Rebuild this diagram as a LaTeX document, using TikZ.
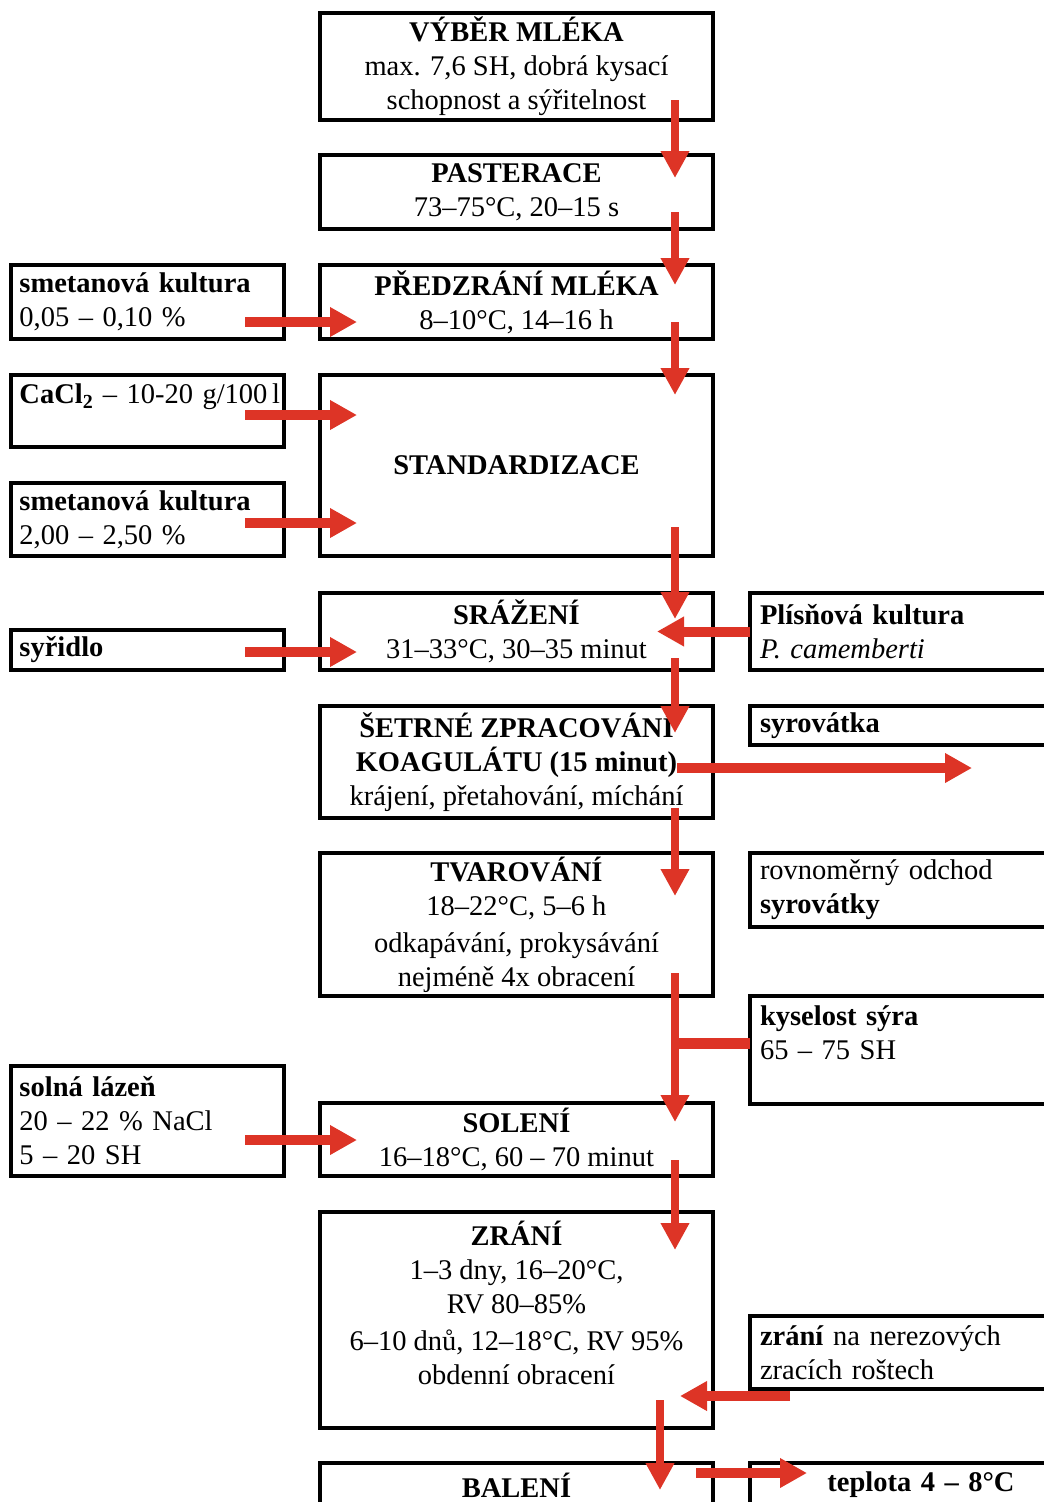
\documentclass[tikz,border=0pt]{standalone}
\usepackage{fontspec}
\setmainfont{Liberation Serif}
\usetikzlibrary{arrows.meta}
\definecolor{flowred}{RGB}{221,52,38}

\tikzset{
  box/.style={draw, line width=3.5pt, inner sep=0pt, outer sep=0pt, font=\fontsize{28.5}{34}\selectfont},
  stepbox/.style={box, minimum width=393pt, align=center},
  inbox/.style={box, minimum width=273pt, text width=256pt, align=left},
  outbox/.style={box, minimum width=342pt, text width=322pt, align=left},
  flow/.style={flowred, line width=8.5pt, -{Triangle[width=27pt,length=27pt]}},
  feed/.style={flowred, line width=10pt, -{Triangle[width=28pt,length=27pt]}},
}

\begin{document}
\begin{tikzpicture}[x=1pt, y=-1pt]
  \useasboundingbox (0,0) rectangle (1044,1502);
  \clip (0,0) rectangle (1044,1502);

  % main process steps
  \node[stepbox, minimum height=107pt] (vyber) at (516.5,66.5)
    {\textbf{VÝBĚR MLÉKA}\\max. 7,6 SH, dobrá kysací\\schopnost a sýřitelnost};
  \node[stepbox, minimum height=74pt] (paster) at (516.5,192)
    {\textbf{PASTERACE}\\73–75°C, 20–15 s};
  \node[stepbox, minimum height=74pt] (predzr) at (516.5,302)
    {\textbf{PŘEDZRÁNÍ MLÉKA}\\8–10°C, 14–16 h};
  \node[stepbox, minimum height=181pt] (stand) at (516.5,465.5)
    {\textbf{STANDARDIZACE}};
  \node[stepbox, minimum height=77pt] (srazeni) at (516.5,631.5)
    {\textbf{SRÁŽENÍ}\\31–33°C, 30–35 minut};
  \node[stepbox, minimum height=112pt] (setrne) at (516.5,762)
    {\textbf{ŠETRNÉ ZPRACOVÁNÍ}\\\textbf{KOAGULÁTU (15 minut)}\\krájení, přetahování, míchání};
  \node[stepbox, minimum height=143pt] (tvar) at (516.5,924.5)
    {\textbf{TVAROVÁNÍ}\\18–22°C, 5–6 h\\[3pt]odkapávání, prokysávání\\nejméně 4x obracení};
  \node[stepbox, minimum height=73pt] (soleni) at (516.5,1139.5)
    {\textbf{SOLENÍ}\\16–18°C, 60 – 70 minut};
  \node[stepbox, minimum height=216pt] (zrani) at (516.5,1320)
    {\textbf{ZRÁNÍ}\\1–3 dny, 16–20°C,\\RV 80–85\%\\[3pt]6–10 dnů, 12–18°C, RV 95\%\\obdenní obracení\\~};
  \node[stepbox, minimum height=44pt] (baleni) at (516.5,1485)
    {\textbf{BALENÍ}};

  % inputs on the left
  \node[inbox, minimum height=74pt] (kult1) at (147.5,302)
    {\textbf{smetanová kultura}\\0,05 – 0,10 \%};
  \node[inbox, minimum height=72pt] (cacl) at (147.5,411)
    {\mbox{\textbf{CaCl\textsubscript{2}} – 10-20 g/100\,l}\\~};
  \node[inbox, minimum height=73pt] (kult2) at (147.5,519.5)
    {\textbf{smetanová kultura}\\2,00 – 2,50 \%};
  \node[inbox, minimum height=40pt] (syridlo) at (147.5,650)
    {\textbf{syřidlo}};
  \node[inbox, minimum height=110pt] (solna) at (147.5,1121)
    {\textbf{solná lázeň}\\20 – 22 \% NaCl\\5 – 20 SH};

  % notes on the right
  \node[outbox, minimum height=77pt] (plis) at (921,631.5)
    {\textbf{Plísňová kultura}\\\textit{P. camemberti}};
  \node[outbox, minimum height=39pt] (syrov) at (921,725.5)
    {\textbf{syrovátka}};
  \node[outbox, minimum height=74pt] (odchod) at (921,890)
    {rovnoměrný odchod\\\textbf{syrovátky}};
  \node[outbox, minimum height=108pt] (kysel) at (921,1050)
    {\textbf{kyselost sýra}\\65 – 75 SH\\~};
  \node[outbox, minimum height=73pt] (zrrost) at (921,1352.5)
    {\textbf{zrání} na nerezových\\zracích roštech};
  \node[outbox, minimum height=44pt, align=center] (teplota) at (921,1485)
    {\textbf{teplota 4 – 8°C}};
  \coordinate (whey) at (972,768);

  % main flow
  \draw[flow] ([shift={(-38,-20)}]vyber.south east) -- ([shift={(-38,23)}]paster.north east);
  \draw[flow] ([shift={(-38,-17)}]paster.south east) -- ([shift={(-38,20)}]predzr.north east);
  \draw[flow] ([shift={(-38,-17)}]predzr.south east) -- ([shift={(-38,20)}]stand.north east);
  \draw[flow] ([shift={(-38,-29)}]stand.south east) -- ([shift={(-38,26)}]srazeni.north east);
  \draw[flow] ([shift={(-38,-12)}]srazeni.south east) -- ([shift={(-38,27)}]setrne.north east);
  \draw[flow] ([shift={(-38,-10)}]setrne.south east) -- ([shift={(-38,43)}]tvar.north east);
  \draw[flow] ([shift={(-38,-23)}]tvar.south east) -- ([shift={(-38,19)}]soleni.north east);
  \draw[flow] ([shift={(-38,-16)}]soleni.south east) -- ([shift={(-38,38)}]zrani.north east);
  \draw[flow] ([shift={(-53,-28)}]zrani.south east) -- ([shift={(-53,27)}]baleni.north east);

  % side arrows
  \draw[feed] ([shift={(-39,20)}]kult1.east) -- ([shift={(37,20)}]predzr.west);
  \draw[feed] ([shift={(-39,4)}]cacl.east) -- ([shift={(37,-50.5)}]stand.west);
  \draw[feed] ([shift={(-39,3.5)}]kult2.east) -- ([shift={(37,57.5)}]stand.west);
  \draw[feed] ([shift={(-39,2)}]syridlo.east) -- ([shift={(37,20.5)}]srazeni.west);
  \draw[feed] ([shift={(-39,19)}]solna.east) -- ([shift={(37,0.5)}]soleni.west);
  \draw[feed] (plis.west) -- ([shift={(-56,0)}]srazeni.east);
  \draw[feed] ([shift={(-36,6)}]setrne.east) -- (whey);
  \draw[flowred, line width=11pt] ([shift={(0,-7)}]kysel.west) -- ([shift={(-42,47)}]tvar.south east);
  \draw[feed] ([shift={(40,7)}]zrrost.south west) -- ([shift={(-33,76)}]zrani.east);
  \draw[feed] ([shift={(-17,-12)}]baleni.east) -- ([shift={(57,-12)}]teplota.west);
\end{tikzpicture}
\end{document}
